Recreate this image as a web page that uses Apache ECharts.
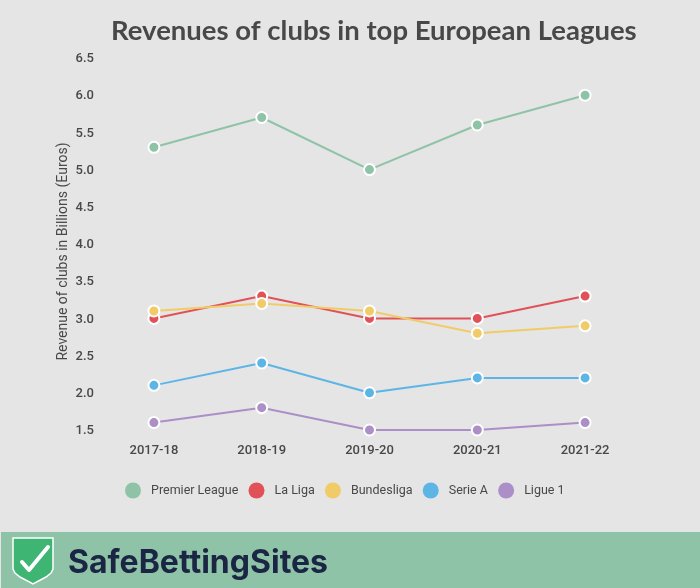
<!DOCTYPE html>
<html>
<head>
<meta charset="utf-8">
<style>
    html, body { margin: 0; padding: 0; background: #e5e5e5; }
    #chart { width: 700px; height: 588px; }
</style>
<script src="https://cdn.jsdelivr.net/npm/echarts@6/dist/echarts.min.js"></script>
</head>
<body>
<div id="chart"></div>
<script>
const seasons = ['2017-18', '2018-19', '2019-20', '2020-21', '2021-22'];
const premierLeague = [5.3, 5.7, 5.0, 5.6, 6.0];
const laLiga = [3.0, 3.3, 3.0, 3.0, 3.3];
const bundesliga = [3.1, 3.2, 3.1, 2.8, 2.9];
const serieA = [2.1, 2.4, 2.0, 2.2, 2.2];
const ligue1 = [1.6, 1.8, 1.5, 1.5, 1.6];

const textColor = '#484848';

function line(name, data, color) {
    return {
        name,
        type: 'line',
        data,
        symbol: 'circle',
        symbolSize: 11,
        showSymbol: true,
        lineStyle: { color, width: 2 },
        itemStyle: { color, borderColor: '#fff', borderWidth: 2 }
    };
}

const chart = echarts.init(document.getElementById('chart'));
chart.setOption({
    animation: false,
    backgroundColor: '#e5e5e5',
    title: {
        text: 'Revenues of clubs in top European Leagues',
        left: 106,
        top: 12,
        textStyle: { fontFamily: 'Lato', fontSize: 27.5, fontWeight: 'bold', color: textColor }
    },
    grid: { left: 100, right: 61, top: 58, bottom: 158 },
    legend: {
        left: 120,
        top: 477.5,
        icon: 'circle',
        itemWidth: 16,
        itemHeight: 16,
        itemGap: 10.2,
        itemStyle: { borderWidth: 0 },
        textStyle: { fontFamily: 'Roboto', fontSize: 12.5, fontWeight: 400, color: textColor, padding: [0, 0, 0, 5] }
    },
    xAxis: {
        type: 'category',
        data: seasons,
        axisLine: { show: false },
        axisTick: { show: false },
        axisLabel: { fontFamily: 'Roboto', fontSize: 13, fontWeight: 500, color: textColor, margin: 14 }
    },
    yAxis: {
        type: 'value',
        min: 1.5,
        max: 6.5,
        interval: 0.5,
        name: 'Revenue of clubs in Billions (Euros)',
        nameLocation: 'middle',
        nameGap: 30,
        nameMoveOverlap: false,
        nameTextStyle: { fontFamily: 'Roboto', fontSize: 14, color: textColor, padding: [0, 15, 0, 0] },
        splitLine: { show: false },
        axisLine: { show: false },
        axisTick: { show: false },
        axisLabel: {
            margin: 6,
            formatter: (v) => '{t|' + v.toFixed(1) + '}',
            rich: {
                t: { fontFamily: 'Roboto', fontSize: 13, fontWeight: 500, color: textColor, padding: [2, 0, 0, 0] }
            }
        }
    },
    series: [
        line('Premier League', premierLeague, '#8fc3a7'),
        line('La Liga', laLiga, '#e05257'),
        line('Bundesliga', bundesliga, '#f2cb69'),
        line('Serie A', serieA, '#5db5e6'),
        line('Ligue 1', ligue1, '#ab8fc6')
    ],
    graphic: [
        { type: 'rect', x: 1, y: 532, shape: { width: 699, height: 56 }, style: { fill: '#8fc3a7' } },
        // shield logo
        {
            type: 'polygon', x: 13, y: 538,
            shape: {
                points: [[0, 0], [40, 0], [40, 31], [38, 35], [33, 39], [20, 46], [7, 39], [2, 35], [0, 31]]
            },
            style: { fill: '#3fb574', stroke: '#fff', lineWidth: 1.5 }
        },
        {
            type: 'polyline', x: 13, y: 538,
            shape: { points: [[9, 24], [16, 32], [35, 9]] },
            style: { fill: null, stroke: '#fff', lineWidth: 4, lineCap: 'round', lineJoin: 'round' }
        },
        {
            type: 'text', x: 68, y: 547,
            style: { text: 'SafeBettingSites', fontFamily: 'Inter', fontSize: 32, fontWeight: 'bold', fill: '#1b2544' }
        }
    ]
});
</script>
</body>
</html>
